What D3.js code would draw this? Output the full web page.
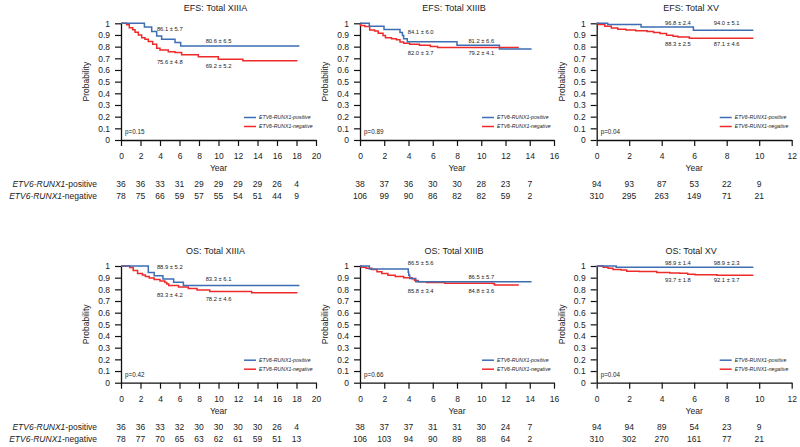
<!DOCTYPE html>
<html>
<head>
<meta charset="utf-8">
<script src="https://cdn.jsdelivr.net/npm/d3@7"></script>
<style>
  body { margin: 0; background: #fff; }
  text { font-family: "Liberation Sans", Arial, sans-serif; fill: #222; }
</style>
</head>
<body>
<svg id="chart" width="800" height="447"></svg>
<script>
// survival curves, [year, probability] step points, last point = end of follow-up
var efsXIIIA_pos = [[0,1],[2.4,0.968],[3.15,0.93],[3.66,0.891],[4.17,0.864],[5.54,0.836],[6.12,0.806],[18.3,0.806]];
var efsXIIIA_neg = [[0,1],[0.58,0.987],[0.85,0.962],[1.2,0.944],[1.44,0.923],[1.78,0.9],[2.12,0.877],[2.46,0.863],[2.8,0.843],[3.25,0.82],[3.66,0.786],[4.0,0.771],[4.85,0.756],[5.54,0.75],[6.22,0.73],[7.93,0.714],[9.98,0.692],[12.5,0.68],[18.1,0.68]];
var efsXIIIB_pos = [[0,1],[0.77,0.974],[1.98,0.947],[3.3,0.921],[3.5,0.895],[3.6,0.868],[3.9,0.842],[8.0,0.812],[11.5,0.779],[14.15,0.779]];
var efsXIIIB_neg = [[0,1],[0.05,0.981],[0.4,0.972],[0.8,0.943],[1.2,0.934],[1.5,0.915],[1.9,0.896],[2.1,0.877],[2.6,0.868],[3.0,0.858],[3.3,0.839],[3.6,0.83],[4.1,0.82],[4.9,0.811],[5.8,0.801],[6.4,0.792],[13.1,0.792]];
var efsXV_pos = [[0,1],[0.68,0.989],[2.73,0.968],[5.95,0.94],[9.64,0.94]];
var efsXV_neg = [[0,1],[0.1,0.99],[0.5,0.975],[0.9,0.96],[1.3,0.95],[1.8,0.943],[2.4,0.937],[3.1,0.93],[3.5,0.922],[3.9,0.912],[4.3,0.898],[4.7,0.888],[5.0,0.883],[5.7,0.871],[9.64,0.871]];
var osXIIIA_pos = [[0,1],[2.8,0.944],[3.4,0.917],[4.3,0.889],[5.4,0.861],[6.4,0.833],[18.3,0.833]];
var osXIIIA_neg = [[0,1],[0.9,0.987],[1.25,0.962],[1.7,0.936],[2.2,0.923],[2.5,0.91],[2.9,0.897],[3.4,0.885],[4.0,0.872],[4.5,0.859],[4.7,0.846],[4.9,0.833],[5.9,0.82],[6.9,0.808],[7.8,0.795],[9.1,0.782],[13.4,0.77],[18.1,0.77]];
var osXIIIB_pos = [[0,1],[0.77,0.974],[3.98,0.947],[4.02,0.921],[4.1,0.892],[4.6,0.865],[14.15,0.865]];
var osXIIIB_neg = [[0,1],[0.1,0.99],[0.5,0.98],[0.96,0.97],[1.4,0.95],[1.8,0.935],[2.3,0.92],[2.9,0.91],[3.6,0.9],[4.3,0.89],[4.5,0.875],[4.8,0.865],[5.5,0.858],[7.0,0.853],[11.0,0.848],[11.1,0.838],[13.1,0.838]];
var osXV_pos = [[0,1],[1.2,0.989],[9.64,0.989]];
var osXV_neg = [[0,1],[0.4,0.99],[0.7,0.98],[1.0,0.97],[1.5,0.965],[1.85,0.955],[2.6,0.952],[3.7,0.945],[4.5,0.94],[5.1,0.937],[5.6,0.93],[6.05,0.925],[7.4,0.921],[9.64,0.921]];

// numbers at risk (every 2 years from 0)
var riskEfsXIIIA_pos = [36,36,33,31,29,29,29,29,26,4];
var riskEfsXIIIA_neg = [78,75,66,59,57,55,54,51,44,9];
var riskEfsXIIIB_pos = [38,37,36,30,30,28,23,7];
var riskEfsXIIIB_neg = [106,99,90,86,82,82,59,2];
var riskEfsXV_pos = [94,93,87,53,22,9];
var riskEfsXV_neg = [310,295,263,149,71,21];
var riskOsXIIIA_pos = [36,36,33,32,30,30,30,30,26,4];
var riskOsXIIIA_neg = [78,77,70,65,63,62,61,59,51,13];
var riskOsXIIIB_pos = [38,37,37,31,31,30,24,7];
var riskOsXIIIB_neg = [106,103,94,90,89,88,64,2];
var riskOsXV_pos = [94,94,89,54,23,9];
var riskOsXV_neg = [310,302,270,161,77,21];

// estimate labels: [year, label height (probability units), text]
var notesEfsXIIIA = [[5,0.951,"86.1 ± 5.7"],[10,0.851,"80.6 ± 6.5"],[5,0.671,"75.6 ± 4.8"],[10,0.637,"69.2 ± 5.2"]];
var notesEfsXIIIB = [[5,0.928,"84.1 ± 6.0"],[10,0.851,"81.2 ± 6.6"],[5,0.743,"82.0 ± 3.7"],[10,0.743,"79.2 ± 4.1"]];
var notesEfsXV = [[5,1.005,"96.8 ± 2.4"],[8,1.005,"94.0 ± 5.1"],[5,0.82,"88.3 ± 2.5"],[8,0.82,"87.1 ± 4.6"]];
var notesOsXIIIA = [[5,0.994,"88.9 ± 5.2"],[10,0.886,"83.3 ± 6.1"],[5,0.752,"83.3 ± 4.2"],[10,0.715,"78.2 ± 4.6"]];
var notesOsXIIIB = [[5,1.023,"86.5 ± 5.6"],[10,0.903,"86.5 ± 5.7"],[5,0.786,"85.8 ± 3.4"],[10,0.786,"84.8 ± 3.6"]];
var notesOsXV = [[5,1.028,"98.9 ± 1.4"],[8,1.028,"98.9 ± 2.3"],[5,0.88,"93.7 ± 1.8"],[8,0.88,"92.1 ± 3.7"]];

var titles = ["EFS: Total XIIIA","EFS: Total XIIIB","EFS: Total XV","OS: Total XIIIA","OS: Total XIIIB","OS: Total XV"];
var pValues = ["p=0.15","p=0.89","p=0.04","p=0.42","p=0.66","p=0.04"];
var xMaxes = [20,16,12,20,16,12];
var seriesNames = ["ETV6-RUNX1-positive","ETV6-RUNX1-negative"];

var panels = [
  {pos: efsXIIIA_pos, neg: efsXIIIA_neg, rp: riskEfsXIIIA_pos, rn: riskEfsXIIIA_neg, notes: notesEfsXIIIA},
  {pos: efsXIIIB_pos, neg: efsXIIIB_neg, rp: riskEfsXIIIB_pos, rn: riskEfsXIIIB_neg, notes: notesEfsXIIIB},
  {pos: efsXV_pos, neg: efsXV_neg, rp: riskEfsXV_pos, rn: riskEfsXV_neg, notes: notesEfsXV},
  {pos: osXIIIA_pos, neg: osXIIIA_neg, rp: riskOsXIIIA_pos, rn: riskOsXIIIA_neg, notes: notesOsXIIIA},
  {pos: osXIIIB_pos, neg: osXIIIB_neg, rp: riskOsXIIIB_pos, rn: riskOsXIIIB_neg, notes: notesOsXIIIB},
  {pos: osXV_pos, neg: osXV_neg, rp: riskOsXV_pos, rn: riskOsXV_neg, notes: notesOsXV}
];

var blue = "#3d6eb4";
var red = "#ee2a2a";
var colX = [[121, 316], [360, 554], [596.7, 791.7]];
var rowY = [[23.3, 140], [266, 382.7]];

var svg = d3.select("#chart");

panels.forEach(function (p, i) {
  var cx = colX[i % 3], ry = rowY[Math.floor(i / 3)];
  var xMax = xMaxes[i];
  var x = d3.scaleLinear().domain([0, xMax]).range(cx);
  var y = d3.scaleLinear().domain([0, 1]).range([ry[1], ry[0]]);
  var g = svg.append("g");

  g.append("text")
    .attr("x", (cx[0] + cx[1]) / 2 - 3)
    .attr("y", ry[0] - 15.5)
    .attr("dy", "0.35em")
    .attr("text-anchor", "middle")
    .style("font-size", "9px")
    .text(titles[i]);

  var yAxis = g.append("g")
    .attr("transform", "translate(" + cx[0] + ",0)")
    .call(d3.axisLeft(y)
      .tickValues(d3.range(0, 11).map(function (k) { return k / 10; }))
      .tickFormat(function (d) { return d === 0 ? "0" : d === 1 ? "1" : d3.format(".1f")(d); })
      .tickSize(6).tickPadding(5).tickSizeOuter(0));

  var xAxis = g.append("g")
    .attr("transform", "translate(0," + ry[1] + ")")
    .call(d3.axisBottom(x)
      .tickValues(d3.range(0, xMax + 1, 2))
      .tickSize(6).tickPadding(7).tickSizeOuter(0));

  [yAxis, xAxis].forEach(function (a) {
    a.select(".domain").attr("stroke", "#111").attr("stroke-width", 1.3);
    a.selectAll(".tick line").attr("stroke", "#111").attr("stroke-width", 1.2);
    a.selectAll(".tick text").style("font-size", "8.5px").attr("fill", "#222");
  });

  g.append("text")
    .attr("transform", "translate(" + (cx[0] - 35) + "," + (ry[0] + ry[1]) / 2 + ") rotate(-90)")
    .attr("text-anchor", "middle")
    .attr("dy", "0.35em")
    .style("font-size", "8.5px")
    .text("Probability");

  g.append("text")
    .attr("x", x(xMax / 2))
    .attr("y", ry[1] + 28.5)
    .attr("dy", "0.35em")
    .attr("text-anchor", "middle")
    .style("font-size", "8.5px")
    .text("Year");

  var line = d3.line()
    .curve(d3.curveStepAfter)
    .x(function (d) { return x(d[0]); })
    .y(function (d) { return y(d[1]); });

  g.append("path").datum(p.neg).attr("d", line)
    .attr("fill", "none").attr("stroke", red).attr("stroke-width", 1.5);
  g.append("path").datum(p.pos).attr("d", line)
    .attr("fill", "none").attr("stroke", blue).attr("stroke-width", 1.5);

  g.selectAll(".note").data(p.notes).enter().append("text")
    .attr("x", function (d) { return x(d[0]); })
    .attr("y", function (d) { return y(d[1]); })
    .attr("dy", "0.35em")
    .attr("text-anchor", "middle")
    .style("font-size", "5.8px")
    .text(function (d) { return d[2]; });

  // legend
  [blue, red].forEach(function (c, k) {
    var ly = ry[1] - 22.5 + k * 9;
    g.append("line")
      .attr("x1", cx[1] - 72).attr("x2", cx[1] - 60)
      .attr("y1", ly).attr("y2", ly)
      .attr("stroke", c).attr("stroke-width", 1.5);
    g.append("text")
      .attr("x", cx[1] - 57).attr("y", ly)
      .attr("dy", "0.35em")
      .style("font-size", "5.2px")
      .style("font-style", "italic")
      .text(seriesNames[k]);
  });

  g.append("text")
    .attr("x", cx[0] + 4)
    .attr("y", ry[1] - 8.3)
    .attr("dy", "0.35em")
    .style("font-size", "6.3px")
    .text(pValues[i]);

  // numbers at risk
  [p.rp, p.rn].forEach(function (arr, k) {
    var ty = ry[1] + 44.5 + k * 11.5;
    g.selectAll(".risk" + k).data(arr).enter().append("text")
      .attr("x", function (d, j) { return x(j * 2); })
      .attr("y", ty)
      .attr("dy", "0.35em")
      .attr("text-anchor", "middle")
      .style("font-size", "8.5px")
      .text(function (d) { return d; });
    if (i % 3 === 0) {
      var lab = g.append("text")
        .attr("x", 97).attr("y", ty)
        .attr("dy", "0.35em")
        .attr("text-anchor", "end")
        .style("font-size", "8.5px");
      lab.append("tspan").style("font-style", "italic").text("ETV6-RUNX1");
      lab.append("tspan").text(k === 0 ? "-positive" : "-negative");
    }
  });
});
</script>
</body>
</html>
